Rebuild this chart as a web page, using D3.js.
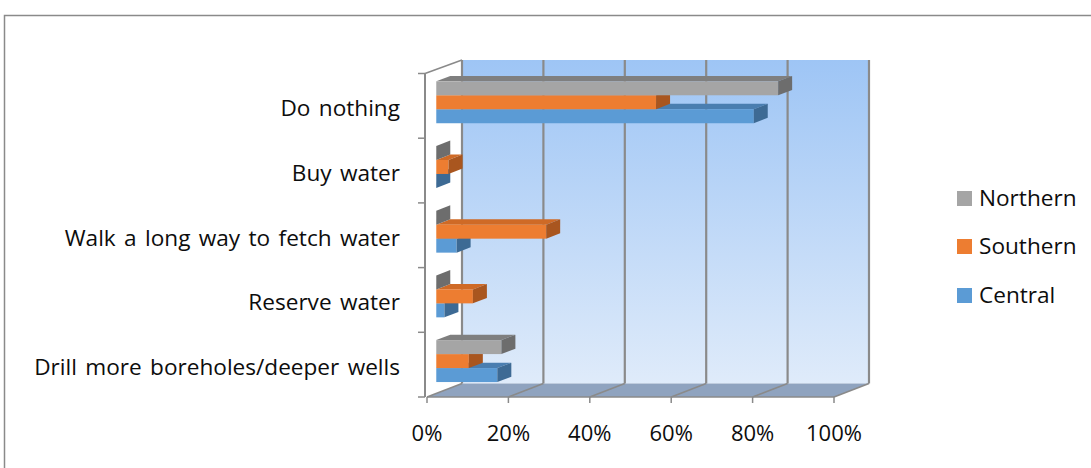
<!DOCTYPE html>
<html>
<head>
<meta charset="utf-8">
<script src="https://cdn.jsdelivr.net/npm/d3@7"></script>
<style>
  html, body { margin: 0; padding: 0; background: #fff; }
  svg { display: block; }
  text { font-family: "Open Sans", sans-serif; fill: #0d0d0d; }
</style>
</head>
<body>
<svg id="chart" width="1091" height="468"></svg>
<script>
// Responses per region, in percent
const categories = [
  "Do nothing",
  "Buy water",
  "Walk a long way to fetch water",
  "Reserve water",
  "Drill more boreholes/deeper wells"
];
const seriesNames = ["Northern", "Southern", "Central"];
const northern = [84, 0, 0, 0, 16];
const southern = [54, 3, 27, 9, 8];
const central  = [78, 0, 5, 2, 15];
const xTicks = [0, 20, 40, 60, 80, 100];
const xTickLabels = ["0%", "20%", "40%", "60%", "80%", "100%"];

const seriesValues = { Northern: northern, Southern: southern, Central: central };
const colors = {
  Northern: { front: "#a5a5a5", top: "#7f7f7f", side: "#6d6d6d" },
  Southern: { front: "#ed7d31", top: "#cf6a26", side: "#a9561f" },
  Central:  { front: "#5b9bd5", top: "#4a7eb0", side: "#3d6a94" }
};

const svg = d3.select("#chart");

// Outer chart frame
svg.append("rect")
  .attr("x", 4.5).attr("y", 15.5)
  .attr("width", 1200).attr("height", 600)
  .attr("fill", "#fff").attr("stroke", "#8a8a8a").attr("stroke-width", 1.5);

// Projection: front plane scales plus a depth offset
const x = d3.scaleLinear().domain([0, 100]).range([427, 834]);
const yTop = 73.5, yBottom = 397;
const DX = 35, DY = -13.5;
const y = d3.scaleBand().domain(categories).range([yTop, yBottom]).padding(0);
const ySeries = d3.scaleBand().domain(seriesNames)
  .range([0, y.bandwidth()]).paddingInner(0).paddingOuter(0.814);

const gridColor = "#8a8a8a";

// Back wall gradient
const defs = svg.append("defs");
const grad = defs.append("linearGradient")
  .attr("id", "wallGrad").attr("x1", 0).attr("y1", 0).attr("x2", 0).attr("y2", 1);
grad.append("stop").attr("offset", "0%").attr("stop-color", "#9ec5f5");
grad.append("stop").attr("offset", "100%").attr("stop-color", "#dfebfa");

const backX0 = x(0) + DX, backX1 = x(100) + DX;
const backTop = yTop + DY, backBottom = yBottom + DY;

// Side wall (left)
svg.append("polygon")
  .attr("points", [[x(0), yTop], [backX0, backTop], [backX0, backBottom], [x(0), yBottom]].join(" "))
  .attr("fill", "#fff");
svg.append("line")
  .attr("x1", x(0) - 2).attr("y1", yTop).attr("x2", backX0).attr("y2", backTop)
  .attr("stroke", gridColor).attr("stroke-width", 1.5);

// Back wall
svg.append("rect")
  .attr("x", backX0).attr("y", backTop)
  .attr("width", backX1 - backX0).attr("height", backBottom - backTop)
  .attr("fill", "url(#wallGrad)");

// Floor
svg.append("polygon")
  .attr("points", [[x(0), yBottom], [x(100), yBottom], [backX1, backBottom], [backX0, backBottom]].join(" "))
  .attr("fill", "#8fa3bf");

// Back wall vertical gridlines
svg.append("g").selectAll("line").data(xTicks).join("line")
  .attr("x1", d => x(d) + DX).attr("x2", d => x(d) + DX)
  .attr("y1", backTop).attr("y2", backBottom)
  .attr("stroke", gridColor).attr("stroke-width", 2.2);

// Floor gridlines
svg.append("g").selectAll("line").data(xTicks).join("line")
  .attr("x1", d => x(d)).attr("y1", yBottom)
  .attr("x2", d => x(d) + DX).attr("y2", backBottom)
  .attr("stroke", gridColor).attr("stroke-width", 1.5);

// Front floor edge
svg.append("line")
  .attr("x1", x(0)).attr("x2", x(100)).attr("y1", yBottom).attr("y2", yBottom)
  .attr("stroke", gridColor).attr("stroke-width", 1.5);

// Category axis line and ticks
svg.append("line")
  .attr("x1", x(0) - 2).attr("x2", x(0) - 2).attr("y1", yTop).attr("y2", yBottom)
  .attr("stroke", gridColor).attr("stroke-width", 2);
const catTicks = categories.map(c => y(c)).concat([yBottom]);
svg.append("g").selectAll("line").data(catTicks).join("line")
  .attr("x1", x(0) - 9).attr("x2", x(0) - 2)
  .attr("y1", d => d).attr("y2", d => d)
  .attr("stroke", gridColor).attr("stroke-width", 1.5);

// Value axis ticks and labels
svg.append("g").selectAll("line").data(xTicks).join("line")
  .attr("x1", d => x(d)).attr("x2", d => x(d))
  .attr("y1", yBottom).attr("y2", yBottom + 6)
  .attr("stroke", gridColor).attr("stroke-width", 1.5);
svg.append("g").selectAll("text").data(xTicks).join("text")
  .attr("x", d => x(d)).attr("y", 441)
  .attr("text-anchor", "middle").attr("font-size", 22)
  .text((d, i) => xTickLabels[i]);

// Category labels
svg.append("g").selectAll("text").data(categories).join("text")
  .attr("x", 400).attr("y", d => y(d) + y.bandwidth() / 2 + 10.5)
  .attr("text-anchor", "end").attr("font-size", 22.6)
  .attr("word-spacing", 2.5)
  .text(d => d);

// 3D bars: front face, top face and end cap
const z0 = 0.265, z1 = 0.665;
const bars = svg.append("g");
const drawOrder = ["Central", "Southern", "Northern"];
categories.forEach((cat, ci) => {
  drawOrder.forEach(s => {
    const v = seriesValues[s][ci];
    const c = colors[s];
    const fx0 = x(0) + z0 * DX, fx1 = x(v) + z0 * DX;
    const fy0 = y(cat) + ySeries(s) + z0 * DY, fy1 = fy0 + ySeries.bandwidth();
    const ddx = (z1 - z0) * DX, ddy = (z1 - z0) * DY;
    const g = bars.append("g");
    g.append("polygon")
      .attr("points", [[fx0, fy0], [fx1, fy0], [fx1 + ddx, fy0 + ddy], [fx0 + ddx, fy0 + ddy]].join(" "))
      .attr("fill", c.top);
    g.append("rect")
      .attr("x", fx0).attr("y", fy0)
      .attr("width", fx1 - fx0).attr("height", fy1 - fy0)
      .attr("fill", c.front);
    g.append("polygon")
      .attr("points", [[fx1, fy0], [fx1 + ddx, fy0 + ddy], [fx1 + ddx, fy1 + ddy], [fx1, fy1]].join(" "))
      .attr("fill", c.side);
  });
});

// Legend
const legendY = [206, 254, 303];
const legend = svg.append("g");
seriesNames.forEach((s, i) => {
  legend.append("rect")
    .attr("x", 957).attr("y", legendY[i] - 15)
    .attr("width", 15).attr("height", 15)
    .attr("fill", colors[s].front);
  legend.append("text")
    .attr("x", 979).attr("y", legendY[i])
    .attr("font-size", 22.6)
    .text(s);
});
</script>
</body>
</html>
